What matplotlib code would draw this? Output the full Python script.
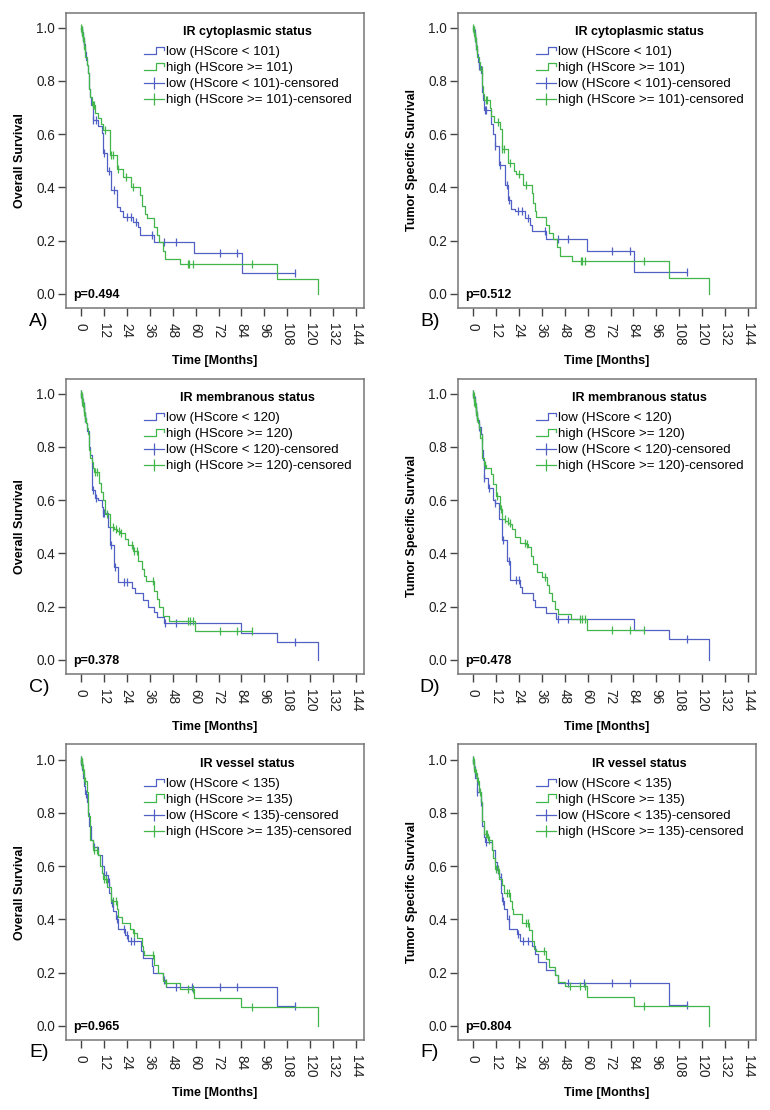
import numpy as np
import matplotlib.pyplot as plt
from matplotlib.lines import Line2D
from matplotlib.legend_handler import HandlerBase

plt.rcParams['font.family'] = ['Liberation Sans', 'DejaVu Sans']

BLUE = '#5060C4'
GREEN = '#42B64A'

# A) overall survival / cytoplasmic
a_low_t = [0, 0.5, 1.0, 1.5, 2.0, 2.5, 3.0, 3.5, 4.0, 4.5, 5.0, 5.5, 6.2, 9.1, 10.8, 11.7, 13.4, 16, 18.7, 20.5, 22.2, 27.5, 30, 31, 38, 59.3, 84.1]
a_low_s = [1.0, 0.985, 0.96, 0.94, 0.91, 0.88, 0.86, 0.83, 0.80, 0.77, 0.74, 0.71, 0.655, 0.629, 0.604, 0.529, 0.46, 0.39, 0.328, 0.31, 0.29, 0.272, 0.25, 0.222, 0.195, 0.155, 0.078]
a_low_c = [0.6, 1.2, 1.8, 6.5, 7.9, 11.9, 14.5, 17.5, 23.9, 26, 28.8, 37, 43.5, 50, 72.8, 81.9, 112]
a_high_t = [0, 0.3, 0.8, 1.3, 1.8, 2.3, 3, 3.5, 4, 4.5, 5, 5.6, 7.5, 9, 10.5, 11.5, 15.3, 18.7, 22, 26, 31, 32, 33.5, 34.5, 38.2, 39.6, 41, 43, 44, 51.8, 102.8, 123.8]
a_high_s = [1.0, 0.99, 0.97, 0.95, 0.92, 0.89, 0.86, 0.83, 0.80, 0.77, 0.74, 0.71, 0.68, 0.66, 0.64, 0.615, 0.52, 0.47, 0.44, 0.40, 0.37, 0.33, 0.30, 0.285, 0.25, 0.22, 0.195, 0.163, 0.13, 0.113, 0.056, 0.0]
a_high_c = [0.1, 0.4, 0.6, 1.0, 1.5, 2.0, 6.3, 6.8, 12.6, 16, 17, 19.6, 23.6, 27.4, 55.9, 56.7, 58.8, 89.4]

# B) tumor specific survival / cytoplasmic
b_low_t = [0, 0.5, 1, 1.5, 2, 2.5, 3, 4, 4.5, 5, 5.5, 6, 9.4, 10.5, 11.5, 13.8, 17, 18.5, 20, 21.8, 27.2, 29.8, 30.7, 38.2, 59.5, 84.2]
b_low_s = [1.0, 0.98, 0.96, 0.93, 0.90, 0.87, 0.857, 0.83, 0.80, 0.76, 0.73, 0.69, 0.64, 0.60, 0.555, 0.485, 0.41, 0.351, 0.32, 0.31, 0.284, 0.26, 0.235, 0.205, 0.163, 0.082]
b_low_c = [0.9, 1.3, 1.8, 3.3, 6.3, 7.1, 11.8, 14.3, 17.6, 18.9, 23.7, 25.9, 28.6, 37.7, 44.3, 50, 73, 82.1, 112]
b_high_t = [0, 0.3, 0.8, 1.3, 1.8, 2.3, 3, 3.8, 5, 5.5, 6, 8.7, 9.4, 11, 14, 15, 18.5, 21.6, 22.5, 26.3, 31, 31.5, 32.3, 33, 38.5, 40, 42, 44, 45.5, 52, 102.8, 123.6]
b_high_s = [1.0, 0.99, 0.97, 0.95, 0.92, 0.89, 0.87, 0.84, 0.78, 0.75, 0.73, 0.70, 0.67, 0.645, 0.62, 0.545, 0.49, 0.46, 0.45, 0.41, 0.38, 0.34, 0.31, 0.29, 0.26, 0.23, 0.205, 0.175, 0.143, 0.122, 0.06, 0.0]
b_high_c = [0.1, 0.4, 0.6, 1.0, 1.5, 2.0, 4.5, 6.8, 7.6, 13, 15.4, 16.3, 19.5, 24.3, 28, 56.3, 57.2, 58.6, 89.4]

# C) overall survival / membranous
c_low_t = [0, 0.5, 1, 1.5, 2, 2.5, 3, 4, 4.5, 5, 5.6, 5.9, 7.3, 9, 10.8, 11.5, 14.3, 15.2, 17.5, 19.5, 26.5, 28.3, 32.6, 35.3, 38.2, 39.6, 43.6, 84, 102.5, 123.8]
c_low_s = [1.0, 0.98, 0.955, 0.93, 0.91, 0.89, 0.86, 0.83, 0.80, 0.77, 0.744, 0.638, 0.61, 0.60, 0.575, 0.553, 0.50, 0.431, 0.35, 0.293, 0.27, 0.25, 0.225, 0.20, 0.18, 0.16, 0.137, 0.10, 0.068, 0.0]
c_low_c = [0.1, 0.8, 1.4, 2.0, 6.2, 7.7, 11.7, 12.2, 15.5, 17.8, 22.7, 23.9, 44, 49.7, 112]
c_high_t = [0, 0.3, 0.7, 1.2, 1.6, 2, 2.5, 3, 3.5, 4, 4.5, 5, 5.6, 6.5, 7, 9.6, 10.5, 11.7, 12.5, 15.2, 17.5, 19, 20.5, 23, 24.5, 27, 30, 31.8, 33, 34, 38.2, 39.6, 41, 43.1, 46, 59.7]
c_high_s = [1.0, 0.99, 0.97, 0.95, 0.93, 0.91, 0.89, 0.87, 0.85, 0.82, 0.79, 0.76, 0.744, 0.72, 0.707, 0.663, 0.63, 0.60, 0.548, 0.50, 0.49, 0.485, 0.475, 0.455, 0.43, 0.41, 0.37, 0.34, 0.315, 0.295, 0.26, 0.23, 0.20, 0.165, 0.145, 0.11]
c_high_c = [0.1, 0.4, 0.8, 1.0, 1.4, 1.8, 2.2, 7.3, 8.2, 13.4, 16.9, 18.3, 20, 21, 26.5, 27.9, 29.1, 37.5, 55.9, 57.1, 58.5, 72.8, 81.9, 89.4]

# D) tumor specific survival / membranous
d_low_t = [0, 0.6, 1.2, 1.8, 2.4, 3, 4, 4.5, 5, 5.5, 5.9, 7.7, 10.6, 11.3, 13.8, 15, 17.6, 19.2, 24.8, 25.8, 31.6, 32.4, 38.2, 43.4, 84.2, 102.8, 123.6]
d_low_s = [1.0, 0.975, 0.95, 0.92, 0.90, 0.873, 0.85, 0.83, 0.79, 0.75, 0.682, 0.644, 0.60, 0.588, 0.53, 0.45, 0.37, 0.30, 0.275, 0.25, 0.225, 0.20, 0.175, 0.152, 0.113, 0.077, 0.0]
d_low_c = [0.1, 0.9, 1.5, 2.1, 3.3, 6.0, 8.5, 11.5, 15.9, 18.9, 22.8, 24.2, 44.3, 50, 112]
d_high_t = [0, 0.3, 0.7, 1.2, 1.6, 2, 2.5, 3, 3.8, 5, 5.8, 7, 9.6, 10.6, 12, 14.3, 15, 16.8, 18.2, 19.6, 20.2, 22, 24.6, 27.8, 28.8, 30.6, 31.5, 33.3, 35.9, 38.8, 39.7, 41.5, 43, 44.6, 51.3, 59.5]
d_high_s = [1.0, 0.99, 0.97, 0.95, 0.93, 0.91, 0.89, 0.87, 0.835, 0.76, 0.732, 0.72, 0.70, 0.66, 0.615, 0.565, 0.53, 0.52, 0.515, 0.51, 0.49, 0.46, 0.44, 0.435, 0.425, 0.39, 0.36, 0.33, 0.31, 0.28, 0.25, 0.22, 0.19, 0.173, 0.152, 0.113]
d_high_c = [0.1, 0.4, 0.8, 1.0, 1.4, 1.8, 2.2, 4.5, 6.3, 12.7, 14.8, 16.7, 18.1, 19.4, 27.2, 28.4, 37.7, 56, 57.2, 58.6, 73, 82.1, 89.4]

# E) overall survival / vessel
e_low_t = [0, 0.3, 0.6, 1, 1.5, 2, 3, 3.8, 4.4, 5.1, 6.1, 8.7, 10.8, 12, 14.3, 14.8, 15.7, 17, 18.2, 19.2, 23, 24.4, 31.5, 32.6, 37, 37.5, 43.1, 44.3, 102.8]
e_low_s = [1.0, 0.98, 0.96, 0.93, 0.90, 0.87, 0.84, 0.80, 0.75, 0.70, 0.67, 0.64, 0.60, 0.565, 0.54, 0.50, 0.46, 0.43, 0.40, 0.365, 0.34, 0.32, 0.28, 0.255, 0.225, 0.20, 0.172, 0.147, 0.073]
e_low_c = [0.2, 0.5, 2.6, 7, 13, 14.6, 16.1, 18.7, 22.5, 23.9, 26.2, 27.9, 43.6, 50, 58, 72.8, 81.9, 112]
e_high_t = [0, 0.3, 0.8, 1.3, 1.8, 3, 3.8, 4.6, 6.1, 8.7, 10, 10.8, 11.7, 13.5, 15.5, 18.7, 19.5, 21.3, 25.7, 27, 29.5, 31.8, 32.6, 33, 38.4, 40.5, 43.1, 44, 51.8, 59.3, 84, 123.8]
e_high_s = [1.0, 0.99, 0.97, 0.95, 0.92, 0.88, 0.79, 0.70, 0.66, 0.64, 0.60, 0.575, 0.55, 0.52, 0.47, 0.44, 0.41, 0.385, 0.365, 0.35, 0.33, 0.30, 0.28, 0.265, 0.23, 0.20, 0.17, 0.16, 0.14, 0.103, 0.07, 0.0]
e_high_c = [0.1, 0.4, 0.7, 1.0, 1.5, 2.0, 7, 8.2, 12.2, 13.1, 16.9, 18.3, 27.9, 37.5, 44.5, 55.9, 58.5, 89.4]

# F) tumor specific survival / vessel
f_low_t = [0, 0.4, 0.8, 1.2, 2, 4, 4.5, 5, 5.6, 6.5, 9.8, 11.5, 12.5, 13.8, 14.8, 15.3, 16.5, 18, 19, 23, 24.6, 31, 32.4, 34, 38.2, 42.9, 44.6, 102.7]
f_low_s = [1.0, 0.98, 0.96, 0.93, 0.88, 0.84, 0.82, 0.75, 0.71, 0.69, 0.66, 0.615, 0.585, 0.56, 0.50, 0.47, 0.44, 0.40, 0.365, 0.345, 0.32, 0.30, 0.27, 0.24, 0.21, 0.19, 0.16, 0.08]
f_low_c = [0.2, 1.0, 2.2, 4.2, 6.8, 12.9, 14.5, 15.9, 18.9, 23.7, 26, 28.6, 50, 58, 73, 82.1, 112]
f_high_t = [0, 0.3, 0.7, 1.2, 2, 3, 4, 4.5, 5.6, 8, 9.8, 10.6, 11.5, 13.8, 15, 16.4, 19.3, 20.2, 21, 25.9, 29.3, 30.7, 31.8, 33, 38.2, 40, 42.9, 44.6, 48.1, 59.5, 84.2, 123.5]
f_high_s = [1.0, 0.99, 0.97, 0.95, 0.92, 0.88, 0.84, 0.77, 0.72, 0.70, 0.66, 0.63, 0.59, 0.55, 0.53, 0.50, 0.47, 0.44, 0.42, 0.385, 0.36, 0.32, 0.29, 0.28, 0.25, 0.22, 0.19, 0.165, 0.15, 0.11, 0.075, 0.0]
f_high_c = [0.1, 0.4, 0.8, 1.5, 2.5, 3.7, 6.6, 7.6, 8.5, 12, 12.9, 17.6, 18.8, 27.7, 28.6, 37.3, 50.7, 56, 58.6, 89.4]

titles = ['IR cytoplasmic status', 'IR membranous status', 'IR vessel status']
cutoffs = [101, 120, 135]
ylabels = ['Overall Survival', 'Tumor Specific Survival']
pvalues = ['0.494', '0.512', '0.378', '0.478', '0.965', '0.804']
letters = ['A)', 'B)', 'C)', 'D)', 'E)', 'F)']
xticks = list(range(0, 145, 12))
yticks = [0.0, 0.2, 0.4, 0.6, 0.8, 1.0]

curves = [
    (a_low_t, a_low_s, a_low_c, a_high_t, a_high_s, a_high_c),
    (b_low_t, b_low_s, b_low_c, b_high_t, b_high_s, b_high_c),
    (c_low_t, c_low_s, c_low_c, c_high_t, c_high_s, c_high_c),
    (d_low_t, d_low_s, d_low_c, d_high_t, d_high_s, d_high_c),
    (e_low_t, e_low_s, e_low_c, e_high_t, e_high_s, e_high_c),
    (f_low_t, f_low_s, f_low_c, f_high_t, f_high_s, f_high_c),
]


class StepHandler(HandlerBase):
    # little step icon like the SPSS legend
    def create_artists(self, legend, orig_handle, xdescent, ydescent,
                       width, height, fontsize, trans):
        x0 = -xdescent
        y0 = -ydescent
        xs = [x0, x0 + 0.62 * width, x0 + 0.62 * width, x0 + width, x0 + width]
        ys = [y0 + 0.1 * height, y0 + 0.1 * height, y0 + 0.95 * height,
              y0 + 0.95 * height, y0 + 0.55 * height]
        ln = Line2D(xs, ys, color=orig_handle.get_color(), lw=0.9,
                    transform=trans)
        return [ln]


def km(ax, t, s, cens, color):
    t = np.asarray(t, float)
    s = np.asarray(s, float)
    cens = np.asarray(cens, float)
    end = max(t[-1], cens.max())
    tt = np.append(t, end)
    ss = np.append(s, s[-1])
    ax.step(tt, ss, where='post', color=color, lw=0.9)
    idx = np.searchsorted(t, cens, side='right') - 1
    ax.plot(cens, s[idx], ls='none', marker='|', ms=6, mew=0.9, color=color)


fig = plt.figure(figsize=(7.7, 11.1), dpi=100)

lefts = [0.0857, 0.5948]
bottoms = [0.7225, 0.3928, 0.0631]
label_x = [0.0506, 0.558]
label_y = [0.710, 0.381, 0.0514]

for i in range(6):
    row, col = i // 2, i % 2
    ax = fig.add_axes([lefts[col], bottoms[row], 0.387, 0.2662])
    lt, ls_, lc, ht, hs, hc = curves[i]
    km(ax, lt, ls_, lc, BLUE)
    km(ax, ht, hs, hc, GREEN)

    ax.set_xlim(-7.8, 148.1)
    ax.set_ylim(-0.053, 1.057)
    ax.set_xticks(xticks)
    ax.set_xticklabels([str(v) for v in xticks], rotation=270, fontsize=9.8,
                       color='#222222')
    ax.set_yticks(yticks)
    ax.set_yticklabels(['%.1f' % v for v in yticks], fontsize=9.8,
                       color='#222222')
    ax.tick_params(axis='both', length=6, width=1.0, color='#444444')
    ax.tick_params(axis='x', pad=5)
    ax.tick_params(axis='y', pad=2)
    for sp in ax.spines.values():
        sp.set_color('#777777')
        sp.set_linewidth(1.1)

    ax.set_xlabel('Time [Months]', fontsize=9, fontweight='bold')
    ax.xaxis.set_label_coords(0.5, -0.16)
    ax.set_ylabel(ylabels[col], fontsize=9, fontweight='bold')
    ax.yaxis.set_label_coords(-0.135, 0.5)

    ax.text(0.023, 0.044, 'p=' + pvalues[i], transform=ax.transAxes,
            fontsize=9, fontweight='bold', ha='left', va='center')

    c = cutoffs[row]
    step_low = Line2D([], [], color=BLUE)
    step_high = Line2D([], [], color=GREEN)
    cens_low = Line2D([], [], color=BLUE, lw=0.9, marker='|', ms=9, mew=0.9)
    cens_high = Line2D([], [], color=GREEN, lw=0.9, marker='|', ms=9, mew=0.9)
    leg = ax.legend([step_low, step_high, cens_low, cens_high],
                    ['low (HScore < %d)' % c, 'high (HScore >= %d)' % c,
                     'low (HScore < %d)-censored' % c,
                     'high (HScore >= %d)-censored' % c],
                    handler_map={step_low: StepHandler(), step_high: StepHandler()},
                    loc='upper left', bbox_to_anchor=(0.262, 0.955),
                    frameon=False, fontsize=9.5, title=titles[row],
                    title_fontproperties={'weight': 'bold', 'size': 9},
                    numpoints=1, handlelength=1.5, handletextpad=0.15,
                    labelspacing=0.28, borderpad=0, borderaxespad=0)
    leg._legend_box.sep = 6

    fig.text(label_x[col], label_y[row], letters[i], fontsize=14,
             ha='center', va='center')

fig.savefig('out.png', dpi=100)
